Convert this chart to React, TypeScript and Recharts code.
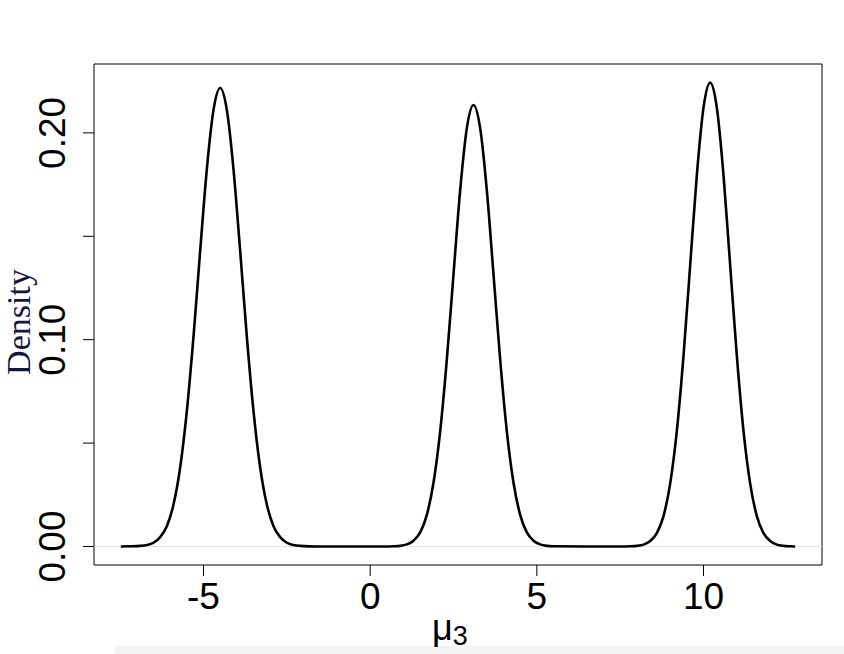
import React from "react";
import {
  LineChart,
  Line,
  XAxis,
  YAxis,
  ReferenceLine,
  ReferenceArea,
} from "recharts";

// density estimate of mu_3
const muValues = [
  -7.48, -7.2,
  -6.9, -6.7, -6.5, -6.3, -6.1, -5.9, -5.7, -5.5, -5.3, -5.1, -4.9, -4.7,
  -4.5, -4.3, -4.1, -3.9, -3.7, -3.5, -3.3, -3.1, -2.9, -2.7, -2.5, -2.3, -2.1,
  -1.6, -0.5, 0.5,
  0.7, 0.9, 1.1, 1.3, 1.5, 1.7, 1.9, 2.1, 2.3, 2.5, 2.7, 2.9,
  3.1, 3.3, 3.5, 3.7, 3.9, 4.1, 4.3, 4.5, 4.7, 4.9, 5.1, 5.3, 5.5,
  6.5, 7.5,
  7.8, 8.0, 8.2, 8.4, 8.6, 8.8, 9.0, 9.2, 9.4, 9.6, 9.8, 10.0,
  10.2, 10.4, 10.6, 10.8, 11.0, 11.2, 11.4, 11.6, 11.8, 12.0, 12.2, 12.4, 12.6,
  12.75,
];

const densityValues = [
  0.0, 0.0001,
  0.0003, 0.0007, 0.0018, 0.0045, 0.0098, 0.0203, 0.0382, 0.0654, 0.1015, 0.1429, 0.1824, 0.2111,
  0.2217, 0.2111, 0.1824, 0.1429, 0.1015, 0.0654, 0.0382, 0.0203, 0.0098, 0.0045, 0.0018, 0.0007, 0.0003,
  0.0, 0.0, 0.0,
  0.0001, 0.0003, 0.001, 0.0028, 0.0068, 0.0153, 0.0308, 0.0557, 0.0904, 0.1316, 0.1722, 0.2023,
  0.2135, 0.2023, 0.1722, 0.1316, 0.0904, 0.0557, 0.0308, 0.0153, 0.0068, 0.0028, 0.001, 0.0003, 0.0001,
  0.0, 0.0,
  0.0001, 0.0003, 0.0009, 0.0026, 0.0065, 0.0147, 0.0304, 0.0559, 0.0922, 0.136, 0.1796, 0.2122,
  0.2243, 0.2122, 0.1796, 0.136, 0.0922, 0.0559, 0.0304, 0.0147, 0.0065, 0.0026, 0.0009, 0.0003, 0.0001,
  0.0,
];

const xTicks = [-5, 0, 5, 10];
const yTicks = [0, 0.05, 0.1, 0.15, 0.2];
const yLabelled = [0, 0.1, 0.2];

const X_DOMAIN: [number, number] = [-8.285, 13.555];
const Y_DOMAIN: [number, number] = [-0.00896, 0.2333];

const data = muValues.map((mu, i) => ({ mu, density: densityValues[i] }));

const sans = "'Liberation Sans', Arial, Helvetica, sans-serif";

function XTick(props: any) {
  const { x, y, payload } = props;
  return (
    <text x={x} y={y + 33} textAnchor="middle" fontFamily={sans} fontSize={37} fill="#000">
      {payload.value}
    </text>
  );
}

function YTick(props: any) {
  const { x, y, payload } = props;
  if (!yLabelled.some((v) => Math.abs(v - payload.value) < 1e-9)) return <g />;
  const tx = x - 18;
  return (
    <text
      x={tx}
      y={y}
      transform={`rotate(-90, ${tx}, ${y})`}
      textAnchor="middle"
      fontFamily={sans}
      fontSize={37}
      fill="#000"
    >
      {payload.value.toFixed(2)}
    </text>
  );
}

export default function App() {
  return (
    <div style={{ position: "absolute", left: 0, top: 0, width: 844, height: 654, background: "#fff" }}>
      <div style={{ position: "absolute", left: 115, top: 646, width: 729, height: 8, background: "#f3f3f3" }} />
      <LineChart
        width={844}
        height={654}
        data={data}
        margin={{ top: 64, right: 22, left: 34, bottom: 29 }}
      >
        <XAxis
          dataKey="mu"
          type="number"
          domain={X_DOMAIN}
          ticks={xTicks}
          allowDataOverflow
          height={60}
          axisLine={false}
          tickLine={{ stroke: "#000", strokeWidth: 1 }}
          tickSize={11}
          tickMargin={0}
          tick={<XTick />}
          interval={0}
        />
        <YAxis
          type="number"
          domain={Y_DOMAIN}
          ticks={yTicks}
          allowDataOverflow
          width={60}
          axisLine={false}
          tickLine={{ stroke: "#000", strokeWidth: 1 }}
          tickSize={11}
          tickMargin={0}
          tick={<YTick />}
          interval={0}
        />
        <ReferenceLine y={0} stroke="#e2e2e2" strokeWidth={1} />
        <ReferenceArea
          x1={X_DOMAIN[0]}
          x2={X_DOMAIN[1]}
          y1={Y_DOMAIN[0]}
          y2={Y_DOMAIN[1]}
          fill="none"
          stroke="#000"
          strokeWidth={1}
          fillOpacity={0}
        />
        <Line
          type="monotone"
          dataKey="density"
          stroke="#000"
          strokeWidth={2.6}
          dot={false}
          activeDot={false}
          isAnimationActive={false}
        />
      </LineChart>
      <svg
        width={844}
        height={654}
        style={{ position: "absolute", left: 0, top: 0, pointerEvents: "none" }}
      >
        <text
          x={30}
          y={322}
          transform="rotate(-90, 30, 322)"
          textAnchor="middle"
          fontFamily="'Liberation Serif', 'Times New Roman', serif"
          fontSize={34}
          fill="#14173c"
        >
          Density
        </text>
        <text x={450} y={640} textAnchor="middle" fontFamily={sans} fontSize={36} fill="#000">
          μ
          <tspan fontSize={27} dy={5}>3</tspan>
        </text>
      </svg>
    </div>
  );
}
